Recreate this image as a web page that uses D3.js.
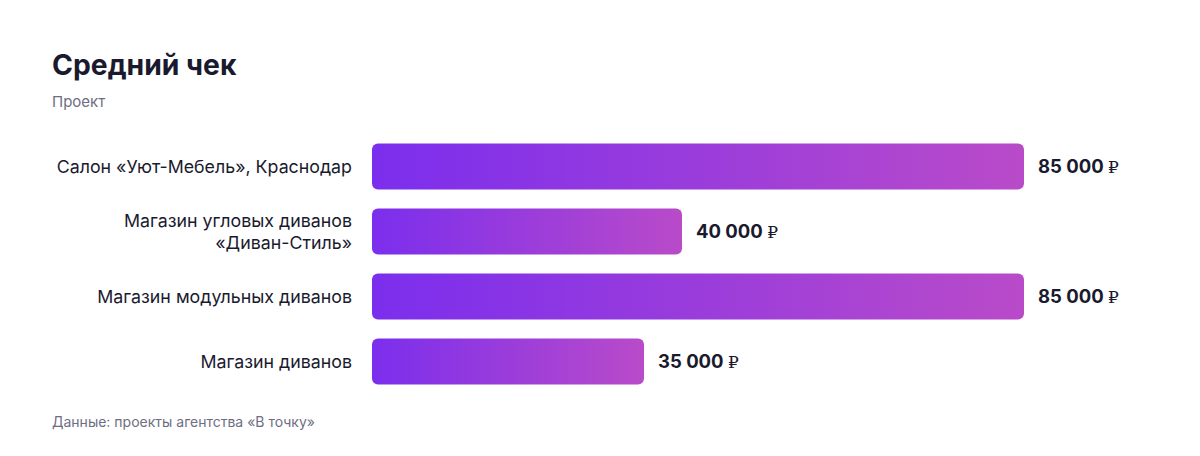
<!DOCTYPE html>
<html><head><meta charset="utf-8">
<script src="https://cdn.jsdelivr.net/npm/d3@7"></script>
<style>
html,body{margin:0;padding:0;background:#fff;}
svg{display:block;font-family:Inter,"Liberation Sans",Arial,sans-serif;}
</style></head>
<body><svg id="chart" width="1200" height="456"></svg>
<script>
const categories = [
  ["Салон «Уют-Мебель», Краснодар"],
  ["Магазин угловых диванов", "«Диван-Стиль»"],
  ["Магазин модульных диванов"],
  ["Магазин диванов"]
];
const values = [85000, 40000, 85000, 35000];
const valueLabels = ["85 000 ₽", "40 000 ₽", "85 000 ₽", "35 000 ₽"];
const title = "Средний чек";
const subtitle = "Проект";
const footer = "Данные: проекты агентства «В точку»";

const svg = d3.select("#chart");
const defs = svg.append("defs");
const grad = defs.append("linearGradient").attr("id","barGrad")
  .attr("x1","0%").attr("x2","100%").attr("y1","0%").attr("y2","0%");
grad.append("stop").attr("offset","0%").attr("stop-color","#7b2eed");
grad.append("stop").attr("offset","100%").attr("stop-color","#b94bc9");

svg.append("text").attr("x",52).attr("y",75).text(title)
  .attr("font-size",28.3).attr("font-weight","bold").attr("fill","#1a1a2e");
svg.append("text").attr("x",52).attr("y",107).text(subtitle)
  .attr("font-size",15).attr("fill","#6e6e82");

const idx = d3.range(values.length);
const y = d3.scaleBand().domain(idx).range([134, 394]).paddingInner(0.29).paddingOuter(0.145);
const x0 = 372;
const x = d3.scaleLinear().domain([0, 85000]).range([378, 1024]);

const g = svg.append("g");
g.selectAll("rect.bar").data(idx).join("rect").attr("class","bar")
  .attr("x", x0).attr("y", i => y(i))
  .attr("width", i => x(values[i]) - x0).attr("height", y.bandwidth())
  .attr("rx", 6).attr("ry", 6).attr("fill","url(#barGrad)");

const vals = g.selectAll("text.val").data(idx).join("text").attr("class","val")
  .attr("x", i => x(values[i]) + 14).attr("y", i => y(i) + y.bandwidth()/2)
  .attr("dy","0.36em").attr("font-size",18.5).attr("font-weight","bold")
  .attr("fill","#1a1a2e");
vals.each(function(i){
  const s = valueLabels[i];
  const cut = s.lastIndexOf(" ");
  const t = d3.select(this);
  t.append("tspan").text(s.slice(0, cut + 1));
  t.append("tspan").attr("font-family","'DejaVu Serif','Liberation Serif',serif")
    .attr("font-weight","normal").attr("font-size",17).text(s.slice(cut + 1));
});

const lab = g.selectAll("text.lab").data(idx).join("text").attr("class","lab")
  .attr("text-anchor","end").attr("font-size",17.8).attr("fill","#1a1a2e");
lab.each(function(i){
  const lines = categories[i];
  const cy = y(i) + y.bandwidth()/2;
  const lh = 22;
  const start = cy - (lines.length-1)*lh/2;
  d3.select(this).selectAll("tspan").data(lines).join("tspan")
    .attr("x", 352).attr("y", (d,k) => start + k*lh).attr("dy","0.35em").text(d => d);
});

svg.append("text").attr("x",52).attr("y",427).text(footer)
  .attr("font-size",14).attr("fill","#6e6e82");
</script>
</body></html>
